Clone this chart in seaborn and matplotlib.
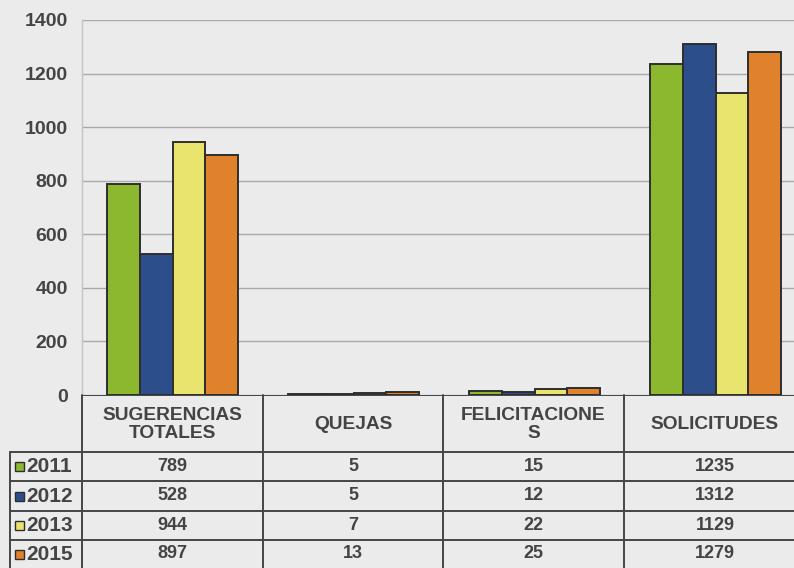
import matplotlib
matplotlib.use("Agg")
import matplotlib.pyplot as plt
from matplotlib.patches import Rectangle
import seaborn as sns
import pandas as pd

# Data
categories = ["SUGERENCIAS\nTOTALES", "QUEJAS", "FELICITACIONE\nS", "SOLICITUDES"]
years = ["2011", "2012", "2013", "2015"]
values_2011 = [789, 5, 15, 1235]
values_2012 = [528, 5, 12, 1312]
values_2013 = [944, 7, 22, 1129]
values_2015 = [897, 13, 25, 1279]
y_ticks = [0, 200, 400, 600, 800, 1000, 1200, 1400]

series = {"2011": values_2011, "2012": values_2012, "2013": values_2013, "2015": values_2015}
colors = ["#8cb82f", "#2c4f8c", "#e9e46e", "#e0812c"]

df = pd.DataFrame(
    [(c, y, v) for y in years for c, v in zip(categories, series[y])],
    columns=["categoria", "anio", "valor"],
)

sns.set_theme(style="white")
plt.rcParams["font.family"] = ["Liberation Sans", "DejaVu Sans"]

BG = "#ebebeb"
TXT = "#444444"
LINE = "#454545"

W, H = 794, 568
fig = plt.figure(figsize=(W / 100, H / 100), dpi=100, facecolor=BG)

# Chart area
ax = fig.add_axes([82 / W, (H - 395) / H, 724 / W, 375 / H])
ax.set_facecolor(BG)
sns.barplot(
    data=df, x="categoria", y="valor", hue="anio",
    order=categories, hue_order=years, palette=colors, saturation=1,
    width=0.72, gap=0, edgecolor="#2e2e2e", linewidth=1.4,
    legend=False, ax=ax, zorder=3,
)
ax.set_ylim(0, 1400)
ax.set_xlim(-0.5, len(categories) - 0.5)
ax.set_yticks(y_ticks)
ax.set_yticklabels([str(t) for t in y_ticks], fontsize=14, fontweight="bold", color=TXT)
ax.tick_params(axis="y", length=0, pad=10)
ax.set_xticks([])
ax.set_xlabel("")
ax.set_ylabel("")
ax.yaxis.grid(True, color="#a9a9a9", linewidth=1.0, zorder=0)
ax.set_axisbelow(True)
for s in ["top", "right", "bottom"]:
    ax.spines[s].set_visible(False)
ax.spines["left"].set_color("#c4c4c4")
ax.spines["left"].set_linewidth(1.0)

# Data table below the chart
tab = fig.add_axes([0, 0, 1, (H - 395) / H])
tab.set_xlim(0, W)
tab.set_ylim(H, 395)
tab.axis("off")

col_edges = [82, 263, 443, 624, 806]
row_edges = [395, 452, 481, 511, 540, 568]
label_left = 10

# vertical lines
for x in col_edges:
    tab.plot([x, x], [395, H], color=LINE, lw=1.4, clip_on=False)
tab.plot([label_left, label_left], [row_edges[1], H], color=LINE, lw=1.4)
# horizontal lines
tab.plot([col_edges[0], col_edges[-1]], [395, 395], color=LINE, lw=1.4)
for y in row_edges[1:-1]:
    tab.plot([label_left, col_edges[-1]], [y, y], color=LINE, lw=1.4)

# header
for i, c in enumerate(categories):
    xc = (col_edges[i] + col_edges[i + 1]) / 2
    tab.text(xc, (row_edges[0] + row_edges[1]) / 2 + 1, c, ha="center", va="center",
             fontsize=13.8, fontweight="bold", color=TXT, linespacing=1.15)

# rows
for r, (y, col) in enumerate(zip(years, colors)):
    yc = (row_edges[r + 1] + row_edges[r + 2]) / 2
    tab.add_patch(Rectangle((15, yc - 4.5), 9, 9, facecolor=col,
                            edgecolor="#2e2e2e", lw=1.0))
    tab.text(26, yc, y, ha="left", va="center", fontsize=15, fontweight="bold", color=TXT)
    for i, v in enumerate(series[y]):
        xc = (col_edges[i] + col_edges[i + 1]) / 2
        tab.text(xc, yc, str(v), ha="center", va="center", fontsize=13,
                 fontweight="bold", color=TXT)

fig.savefig("out.png", dpi=100, facecolor=BG)
